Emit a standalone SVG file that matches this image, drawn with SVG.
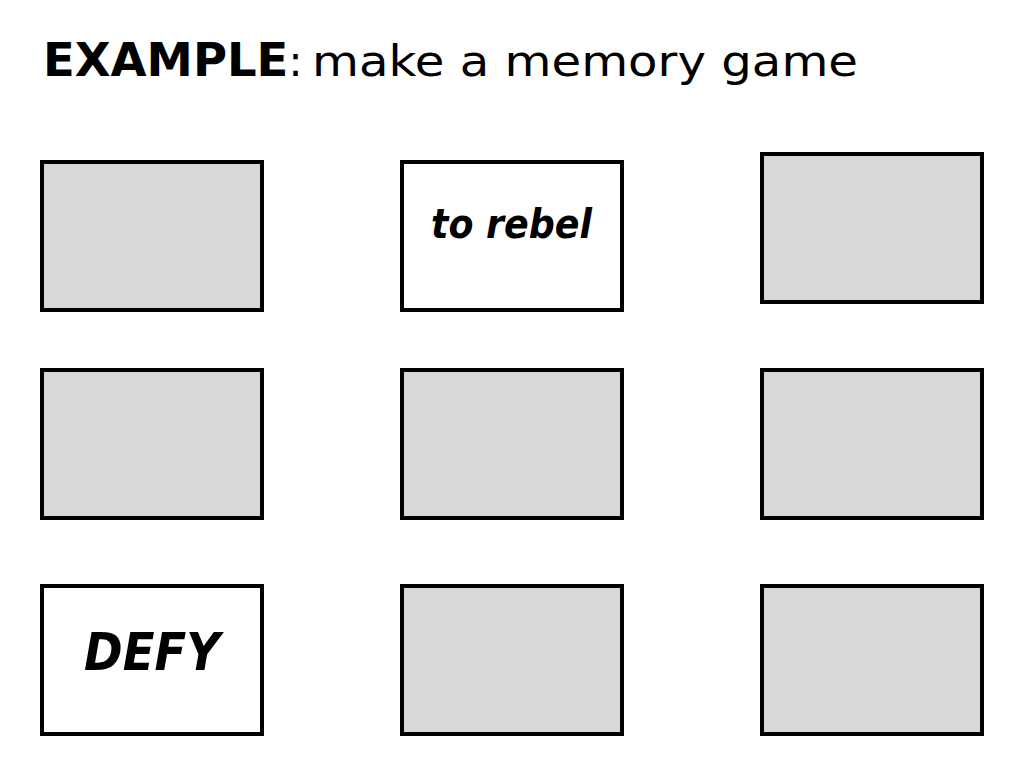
<svg xmlns="http://www.w3.org/2000/svg" width="1034" height="774" viewBox="0 0 1034 774">
  <style>
    .card { stroke: #000; stroke-width: 4; }
    .down { fill: #d9d9d9; }
    .up { fill: #ffffff; }
    .title { font-family: "DejaVu Sans", "Liberation Sans", sans-serif; fill: #000; }
    .word { font-family: "DejaVu Sans", "Liberation Sans", sans-serif; font-weight: bold; font-style: italic; fill: #000; text-anchor: start; }
  </style>
  <rect width="1034" height="774" fill="#ffffff"/>
  <g id="title">
    <text class="title" y="76" font-size="43"><tspan x="43" font-size="46.5" font-weight="bold">EXAMPLE</tspan><tspan>:</tspan><tspan x="312" textLength="546" lengthAdjust="spacingAndGlyphs">make a memory game</tspan></text>
  </g>
  <g id="card-r1c1"><rect class="card down" x="42" y="162" width="220" height="148"/></g>
  <g id="card-r1c2">
    <rect class="card up" x="402" y="162" width="220" height="148"/>
    <text class="word" x="431" y="238" font-size="40" textLength="161" lengthAdjust="spacingAndGlyphs">to rebel</text>
  </g>
  <g id="card-r1c3"><rect class="card down" x="762" y="154" width="220" height="148"/></g>
  <g id="card-r2c1"><rect class="card down" x="42" y="370" width="220" height="148"/></g>
  <g id="card-r2c2"><rect class="card down" x="402" y="370" width="220" height="148"/></g>
  <g id="card-r2c3"><rect class="card down" x="762" y="370" width="220" height="148"/></g>
  <g id="card-r3c1">
    <rect class="card up" x="42" y="586" width="220" height="148"/>
    <text class="word" x="84" y="670" font-size="51" textLength="136" lengthAdjust="spacingAndGlyphs">DEFY</text>
  </g>
  <g id="card-r3c2"><rect class="card down" x="402" y="586" width="220" height="148"/></g>
  <g id="card-r3c3"><rect class="card down" x="762" y="586" width="220" height="148"/></g>
  <g id="connectors"></g>
</svg>
